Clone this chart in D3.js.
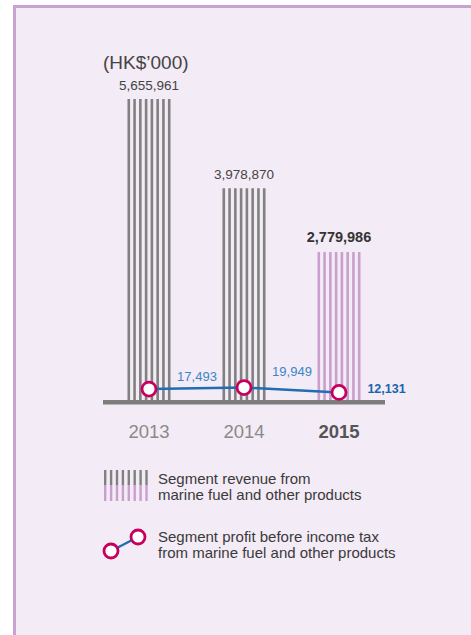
<!DOCTYPE html>
<html><head><meta charset="utf-8">
<script src="https://cdn.jsdelivr.net/npm/d3@7"></script>
<style>html,body{margin:0;padding:0;background:#fff;}svg{display:block;font-family:"Liberation Sans",Arial,sans-serif;}</style>
</head><body>
<script>
const years = ["2013", "2014", "2015"];
const revenue = [5655961, 3978870, 2779986];
const profit = [17493, 19949, 12131];
const revenueLabels = ["5,655,961", "3,978,870", "2,779,986"];
const profitLabels = ["17,493", "19,949", "12,131"];
const unitLabel = "(HK$\u2019000)";
const legendRevenue = ["Segment revenue from", "marine fuel and other products"];
const legendProfit = ["Segment profit before income tax", "from marine fuel and other products"];

const W = 471, H = 635;
const svg = d3.select("body").append("svg").attr("width", W).attr("height", H);

// panel
svg.append("rect").attr("x", 13).attr("y", 5).attr("width", W).attr("height", H).attr("fill", "#c9a3cf");
svg.append("rect").attr("x", 16).attr("y", 8).attr("width", W).attr("height", H).attr("fill", "#f3ebf5");

const x = d3.scaleBand().domain(years).range([101.5, 386.5]).paddingInner(0.547).paddingOuter(0.2735);
const y = d3.scaleLinear().domain([0, 5655961]).range([400, 99]);
const y2 = d3.scaleLinear().domain([0, 20000]).range([400, 387.5]);

const nStripes = 8, stripeW = 2.6;
const bw = x.bandwidth();
const step = (bw - stripeW) / (nStripes - 1);

years.forEach((yr, i) => {
  const g = svg.append("g");
  const col = i === 2 ? "#c9a0cd" : "#818181";
  d3.range(nStripes).forEach(k => {
    g.append("rect").attr("x", x(yr) + k * step).attr("y", y(revenue[i]))
      .attr("width", stripeW).attr("height", y(0) - y(revenue[i])).attr("fill", col);
  });
  svg.append("text").attr("x", x(yr) + bw / 2).attr("y", y(revenue[i]) - (i === 2 ? 10 : 9))
    .attr("text-anchor", "middle")
    .attr("font-size", i === 2 ? 14.5 : 13.5)
    .attr("font-weight", i === 2 ? "bold" : "normal")
    .attr("fill", i === 2 ? "#333" : "#444")
    .text(revenueLabels[i]);
  svg.append("text").attr("x", x(yr) + bw / 2).attr("y", 438)
    .attr("text-anchor", "middle").attr("font-size", 18.5)
    .attr("font-weight", i === 2 ? "bold" : "normal")
    .attr("fill", i === 2 ? "#555" : "#8a8a8a")
    .text(yr);
});

// axis baseline
svg.append("rect").attr("x", 103).attr("y", 400).attr("width", 282).attr("height", 4.5).attr("fill", "#7d7d7d");

// unit
svg.append("text").attr("x", 103).attr("y", 69).attr("font-size", 19).attr("fill", "#444").text(unitLabel);

// profit line
const cx = yr => x(yr) + bw / 2;
const line = d3.line().x((d, i) => cx(years[i])).y(d => y2(d));
svg.append("path").datum(profit).attr("d", line).attr("fill", "none").attr("stroke", "#1f6db3").attr("stroke-width", 2.5);
profit.forEach((v, i) => {
  svg.append("circle").attr("cx", cx(years[i])).attr("cy", y2(v)).attr("r", 7)
    .attr("fill", "#fff").attr("stroke", "#c8005d").attr("stroke-width", 2.8);
});
const plOff = [[48, -8], [48, -11.5], [47.5, 0.5]];
profit.forEach((v, i) => {
  svg.append("text").attr("x", cx(years[i]) + plOff[i][0]).attr("y", y2(v) + plOff[i][1])
    .attr("text-anchor", "middle").attr("font-size", i === 2 ? 12.5 : 13)
    .attr("font-weight", i === 2 ? "bold" : "normal")
    .attr("fill", i === 2 ? "#1a64ad" : "#3a86c8")
    .text(profitLabels[i]);
});

// legend revenue
d3.range(nStripes).forEach(k => {
  svg.append("rect").attr("x", 104 + k * 5.9).attr("y", 470).attr("width", 2.4).attr("height", 15).attr("fill", "#818181");
  svg.append("rect").attr("x", 104 + k * 5.9).attr("y", 485).attr("width", 2.4).attr("height", 16).attr("fill", "#c9a0cd");
});
legendRevenue.forEach((t, i) => {
  svg.append("text").attr("x", 158).attr("y", 484 + i * 16).attr("font-size", 15).attr("fill", "#3a3a3a").text(t);
});
// legend profit
svg.append("line").attr("x1", 111).attr("y1", 551).attr("x2", 138).attr("y2", 537).attr("stroke", "#1f6db3").attr("stroke-width", 2.5);
[[111, 551], [138, 537]].forEach(p => {
  svg.append("circle").attr("cx", p[0]).attr("cy", p[1]).attr("r", 7)
    .attr("fill", "#fff").attr("stroke", "#c8005d").attr("stroke-width", 2.8);
});
legendProfit.forEach((t, i) => {
  svg.append("text").attr("x", 158).attr("y", 542 + i * 16).attr("font-size", 15).attr("fill", "#3a3a3a").text(t);
});
</script>
</body></html>
